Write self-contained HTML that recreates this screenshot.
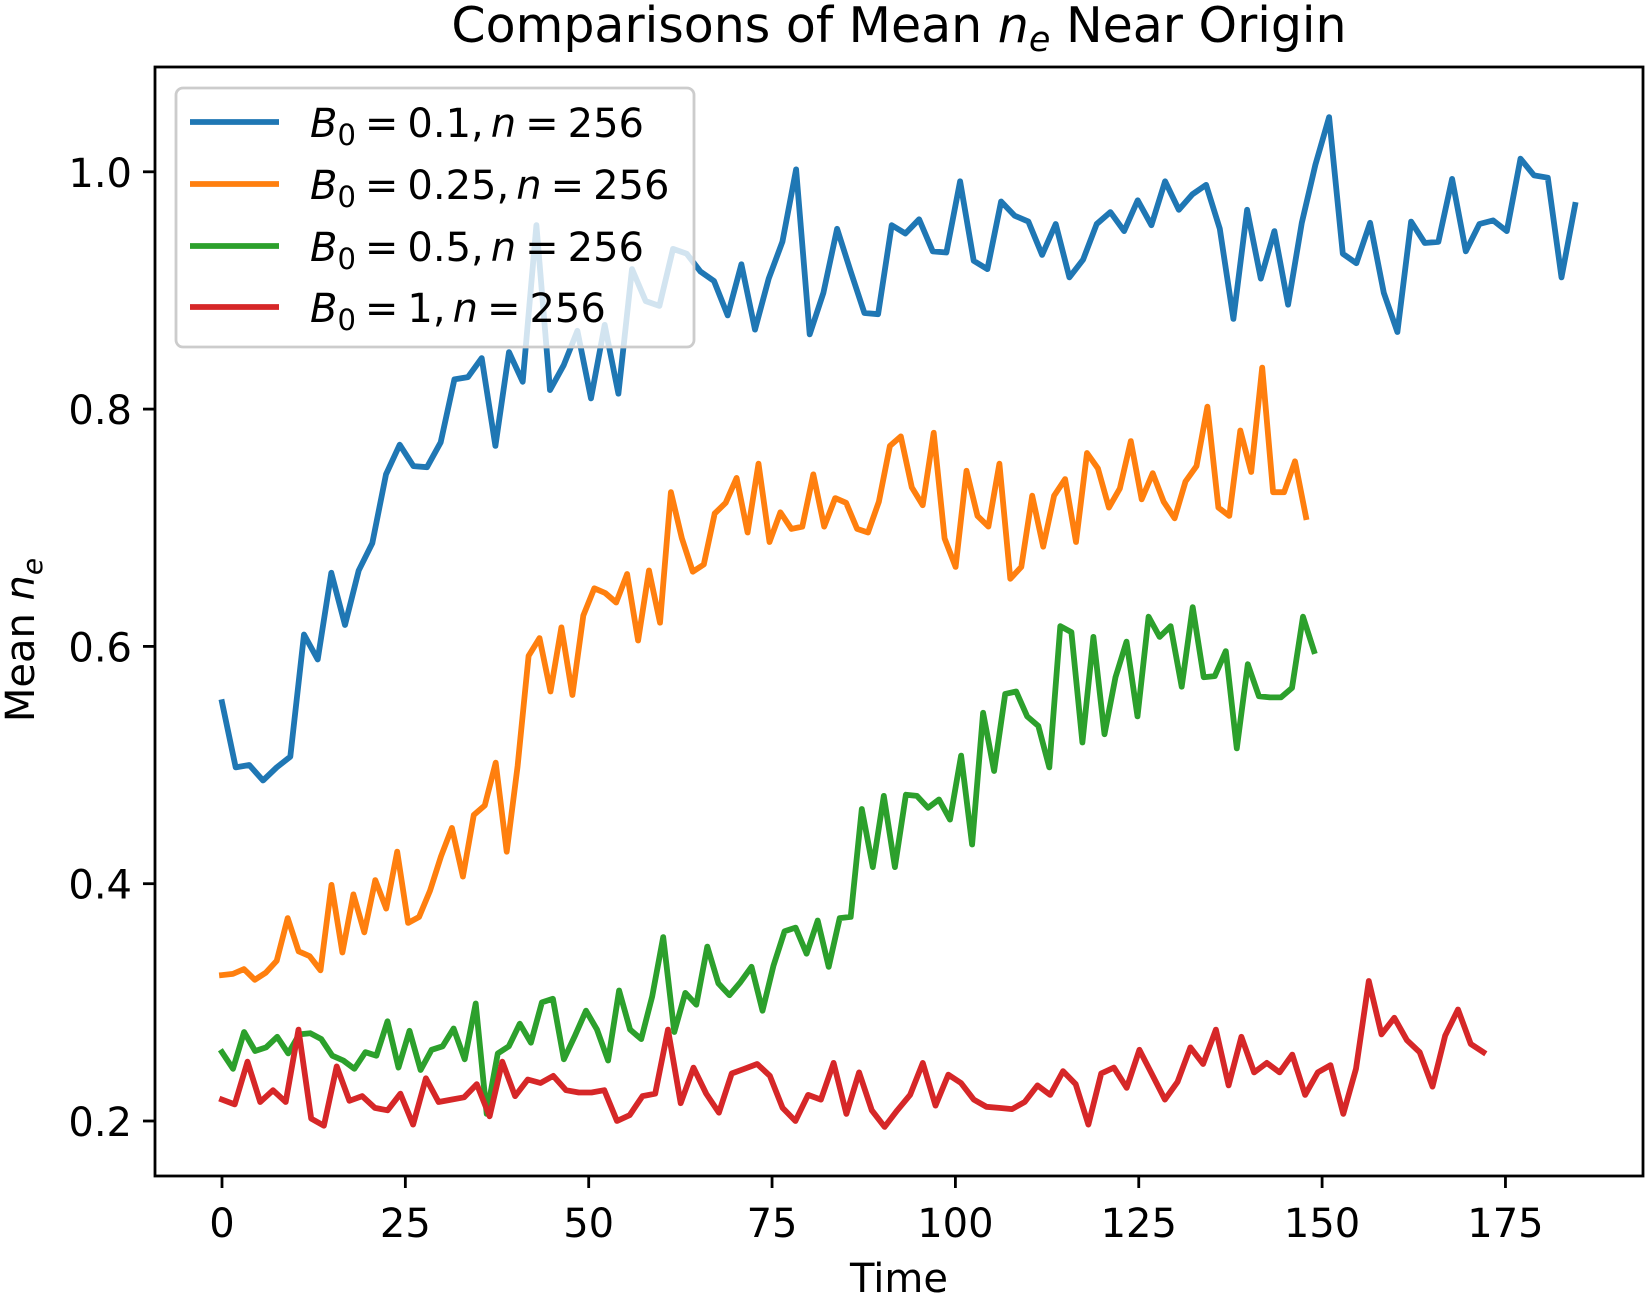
<!DOCTYPE html>
<html><head><meta charset="utf-8"><style>
html,body{margin:0;padding:0;background:#fff;}
svg{display:block;font-family:"DejaVu Sans","Liberation Sans",sans-serif;}
</style></head><body>
<svg id="chart" width="1646" height="1305" viewBox="0 0 1646 1305" xmlns="http://www.w3.org/2000/svg">
<rect x="0" y="0" width="1646" height="1305" fill="#fff"/>
<text x="899" y="42" font-size="49" text-anchor="middle">Comparisons of Mean <tspan font-style="italic">n</tspan><tspan font-size="35" dy="9" font-style="italic">e</tspan><tspan dy="-9"> Near Origin</tspan></text>
<g id="plot"></g>
<g id="xticks"></g>
<g id="yticks"></g>
<rect x="155" y="67" width="1488" height="1109" fill="none" stroke="#000" stroke-width="2.8"/>
<text x="899" y="1292" font-size="40" text-anchor="middle">Time</text>
<text transform="translate(34,640) rotate(-90)" font-size="40" text-anchor="middle">Mean <tspan font-style="italic">n</tspan><tspan font-size="28" dy="8" font-style="italic">e</tspan></text>
<g id="legend"></g>
</svg>
<script>
const seriesNames = ["B0=0.1, n=256","B0=0.25, n=256","B0=0.5, n=256","B0=1, n=256"];
const legendValues = ["0.1","0.25","0.5","1"];
const seriesColors = ["#1f77b4","#ff7f0e","#2ca02c","#d62728"];
const seriesTimeMax = [184.5, 147.8, 148.9, 172.0];
const blueValues = [0.553,0.498,0.500,0.487,0.498,0.507,0.610,0.589,0.662,0.618,0.664,0.687,0.745,0.770,0.752,0.751,0.772,0.825,0.827,0.843,0.769,0.848,0.823,0.955,0.816,0.837,0.866,0.809,0.871,0.813,0.918,0.891,0.887,0.935,0.931,0.916,0.908,0.879,0.922,0.867,0.910,0.941,1.002,0.863,0.898,0.952,0.916,0.881,0.880,0.955,
0.948,0.960,0.933,0.932,0.992,0.925,0.918,0.975,0.963,0.958,0.930,0.956,0.911,0.926,0.956,0.966,0.950,0.976,0.955,0.992,0.968,0.981,0.989,0.952,0.876,0.968,0.910,0.950,0.888,0.957,1.006,1.046,0.931,0.923,0.957,0.898,0.865,0.958,0.940,0.941,0.994,0.933,0.956,0.959,0.950,1.011,0.997,0.995,0.911,0.972];
const orangeValues = [0.323,0.324,0.328,0.319,0.325,0.335,0.371,0.343,0.339,0.327,0.399,0.342,0.391,0.359,0.403,0.379,0.427,0.367,0.372,0.394,0.423,0.447,0.406,0.458,0.466,0.502,0.427,0.499,0.592,0.607,0.562,0.616,0.559,0.626,0.649,0.645,0.637,0.661,0.605,0.664,0.620,0.730,0.691,0.663,0.669,0.712,0.721,0.742,0.696,0.754,0.688,0.713,
0.699,0.701,0.745,0.701,0.725,0.721,0.699,0.696,0.722,0.769,0.777,0.734,0.719,0.780,0.691,0.667,0.748,0.710,0.701,0.754,0.657,0.667,0.727,0.684,0.727,0.741,0.688,0.763,0.750,0.717,0.733,0.773,0.724,0.746,0.722,0.708,0.739,0.752,0.802,0.717,0.710,0.782,0.747,0.835,0.730,0.730,0.756,0.709];
const greenValues = [0.258,0.244,0.275,0.259,0.262,0.271,0.257,0.273,0.274,0.269,0.255,0.251,0.244,0.258,0.255,0.284,0.245,0.276,0.243,0.260,0.263,0.278,0.252,0.299,0.206,0.257,0.263,0.282,0.266,0.300,0.303,0.252,0.272,0.293,0.277,0.251,0.310,0.277,0.269,0.305,0.355,0.275,0.308,0.298,0.347,0.316,0.306,0.317,0.330,0.293,0.331,0.360,
0.363,0.341,0.369,0.330,0.371,0.372,0.463,0.414,0.474,0.414,0.475,0.474,0.464,0.471,0.454,0.508,0.433,0.544,0.495,0.560,0.562,0.541,0.533,0.498,0.617,0.612,0.519,0.608,0.526,0.574,0.604,0.541,0.625,0.608,0.617,0.566,0.633,0.574,0.575,0.596,0.514,0.585,0.558,0.557,0.557,0.565,0.625,0.596];
const redValues = [0.218,0.214,0.250,0.216,0.226,0.216,0.277,0.202,0.196,0.246,0.217,0.221,0.211,0.209,0.223,0.197,0.236,0.216,0.218,0.220,0.231,0.204,0.250,0.221,0.235,0.232,0.238,0.226,0.224,0.224,0.226,0.200,0.205,0.221,0.223,0.277,0.215,0.245,0.223,0.207,0.240,0.244,0.248,0.238,0.211,
0.200,0.222,0.218,0.249,0.206,0.241,0.209,0.195,0.209,0.222,0.249,0.213,0.239,0.232,0.218,0.212,0.211,0.210,0.216,0.230,0.222,0.242,0.231,0.197,0.240,0.245,0.228,0.260,0.239,0.218,0.233,0.262,0.248,0.277,0.230,0.271,0.241,0.249,0.241,0.256,0.222,0.241,0.247,0.206,0.244,0.318,0.273,0.287,0.268,0.258,0.229,0.272,0.294,0.265,0.258];
const xTickValues = [0,25,50,75,100,125,150,175];
const yTickValues = [0.2,0.4,0.6,0.8,1.0];
const yTickLabels = ["0.2","0.4","0.6","0.8","1.0"];

const NS = "http://www.w3.org/2000/svg";
function xScale(t){ return 222 + t * 7.334; }
function yScale(v){ return 1121 - (v - 0.2) * 1186.5; }
function mk(tag, parent){ const e = document.createElementNS(NS, tag); parent.appendChild(e); return e; }

const plot = document.getElementById('plot');
const all = [blueValues, orangeValues, greenValues, redValues];
all.forEach(function(vals, s){
  const n = vals.length;
  let d = "";
  vals.forEach(function(v, i){
    const t = i * seriesTimeMax[s] / (n - 1);
    d += (i ? "L" : "M") + xScale(t).toFixed(1) + "," + yScale(v).toFixed(1);
  });
  const p = mk('path', plot);
  p.setAttribute('d', d);
  p.setAttribute('fill', 'none');
  p.setAttribute('stroke', seriesColors[s]);
  p.setAttribute('stroke-width', '5.8');
  p.setAttribute('stroke-linejoin', 'round');
  p.setAttribute('stroke-linecap', 'square');
  
  
});

const xg = document.getElementById('xticks');
xTickValues.forEach(function(t){
  const x = xScale(t);
  const l = mk('line', xg);
  l.setAttribute('x1', x); l.setAttribute('x2', x); l.setAttribute('y1', 1176); l.setAttribute('y2', 1188);
  l.setAttribute('stroke', '#000'); l.setAttribute('stroke-width', '2.8');
  
  
  const tx = mk('text', xg);
  tx.setAttribute('x', x); tx.setAttribute('y', 1237);
  tx.setAttribute('font-size', '40'); tx.setAttribute('text-anchor', 'middle');
  tx.textContent = String(t);
  
  
});
const yg = document.getElementById('yticks');
yTickValues.forEach(function(v, i){
  const y = yScale(v);
  const l = mk('line', yg);
  l.setAttribute('x1', 143); l.setAttribute('x2', 155); l.setAttribute('y1', y); l.setAttribute('y2', y);
  l.setAttribute('stroke', '#000'); l.setAttribute('stroke-width', '2.8');
  
  
  const tx = mk('text', yg);
  tx.setAttribute('x', 132); tx.setAttribute('y', y + 15);
  tx.setAttribute('font-size', '40'); tx.setAttribute('text-anchor', 'end');
  tx.textContent = yTickLabels[i];
  
  
});

const lg = document.getElementById('legend');
const box = mk('rect', lg);
box.setAttribute('x', 176); box.setAttribute('y', 88); box.setAttribute('width', 518); box.setAttribute('height', 259);
box.setAttribute('rx', 7); box.setAttribute('fill', 'rgba(255,255,255,0.8)');
box.setAttribute('stroke', '#cccccc'); box.setAttribute('stroke-width', '2.8');


const rowY = [122, 184, 246, 307];
seriesNames.forEach(function(name, s){
  const y = rowY[s];
  const l = mk('line', lg);
  l.setAttribute('x1', 190); l.setAttribute('x2', 279); l.setAttribute('y1', y); l.setAttribute('y2', y);
  l.setAttribute('stroke', seriesColors[s]); l.setAttribute('stroke-width', '5.8');
  
  
  const tx = mk('text', lg);
  tx.setAttribute('x', 310); tx.setAttribute('y', y + 15);
  tx.setAttribute('font-size', '40');
  tx.innerHTML = '<tspan font-style="italic">B</tspan><tspan font-size="29" dy="8">0</tspan><tspan dy="-8" dx="9">=</tspan><tspan dx="9">' + legendValues[s] + ',</tspan><tspan dx="7" font-style="italic">n</tspan><tspan dx="9">=</tspan><tspan dx="9">256</tspan>';
  
  
});
</script>
</body></html>
